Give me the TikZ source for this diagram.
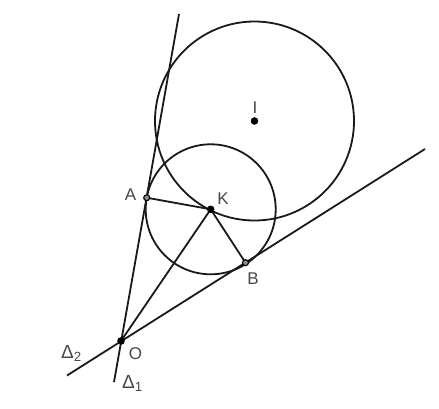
\documentclass[tikz,border=0pt]{standalone}
\usepackage{fontspec}
\setmainfont{Liberation Sans}
\begin{document}
\begin{tikzpicture}[x=1pt,y=-1pt,
  geo/.style={line width=1.8pt,black!90},
  lbl/.style={text=black!72,font=\fontsize{17}{19}\selectfont,inner sep=0pt},
  dlbl/.style={text=black!72,font=\fontsize{19}{21}\selectfont,inner sep=0pt},
  fulldot/.style={fill=black,draw=none},
  opendot/.style={fill=black!45,draw=black,line width=1.1pt}]
\useasboundingbox (0,0) rectangle (439,408);
\coordinate (O) at (121,341);
\coordinate (A) at (146.7,197.7);
\coordinate (B) at (245.5,262.7);
\coordinate (K) at (210.7,209.3);
\coordinate (I) at (254.5,121);
\coordinate (D1top) at (179,14);
\coordinate (D1bot) at (114,382);
\coordinate (D2left) at (67,375.5);
\coordinate (D2right) at (425,149);
% circles
\draw[geo] (I) circle (99.5);
\draw[geo] (K) circle (65);
% lines
\draw[geo] (D1top) -- (D1bot);
\draw[geo] (D2left) -- (D2right);
\draw[geo] (O) -- (K);
\draw[geo] (A) -- (K) -- (B);
% points
\fill[fulldot] (O) circle (3.8);
\fill[fulldot] (K) circle (3.8);
\fill[fulldot] (I) circle (3.8);
\draw[opendot] (A) circle (3);
\draw[opendot] (B) circle (3);
% labels
\node[lbl] (lA) at (130.5,195) {A};
\node[lbl] (lK) at (223,199) {K};
\node[lbl] (lB) at (253,279) {B};
\node[lbl] (lI) at (255,108) {I};
\node[lbl] (lO) at (135.5,354) {O};
\node[dlbl,anchor=base west] (lD2) at (61,358) {Δ\textsubscript{2}};
\node[dlbl,anchor=base west] (lD1) at (122,388.5) {Δ\textsubscript{1}};
\end{tikzpicture}
\end{document}
